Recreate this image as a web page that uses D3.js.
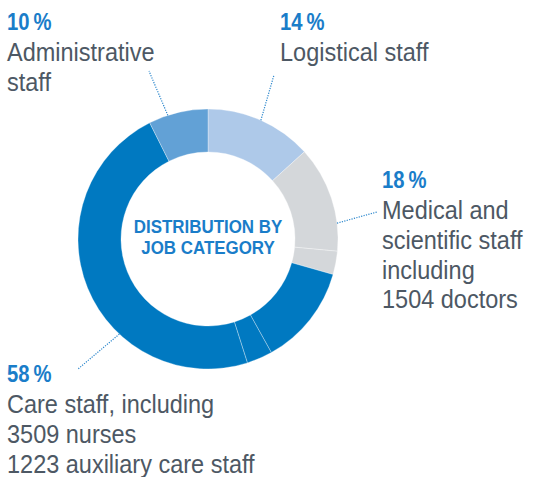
<!DOCTYPE html>
<html>
<head>
<meta charset="utf-8">
<script src="https://cdn.jsdelivr.net/npm/d3@7"></script>
<style>
  body{margin:0;background:#fff;}
  svg{display:block;}
</style>
</head>
<body>
<div id="chart"></div>
<script>
// categories, clockwise from 12 o'clock
const categories = ["Logistical staff","Medical and scientific staff","Care staff","Administrative staff"];
const percents   = [14, 18, 58, 10];
const colors     = ["#aec9e9","#d4d7da","#0079c1","#62a1d6"];
// the ring is split in sub segments
const segCategory = [0, 1, 1, 2, 2, 2, 3];
const segValues   = [13.3, 13.2, 2.9, 12.5, 3.2, 47.5, 7.4];
// label texts
const labelLines = [
  ["Logistical staff"],
  ["Medical and","scientific staff","including","1504 doctors"],
  ["Care staff, including","3509 nurses","1223 auxiliary care staff"],
  ["Administrative","staff"]
];
const title = ["DISTRIBUTION BY","JOB CATEGORY"];

const W = 535, H = 477;
const cx = 208, cy = 239, rOuter = 130, rInner = 87;
const font = "'Liberation Sans', Arial, sans-serif";
const squeeze = "scale(0.94,1)"; // narrow look of the original type

// label layout: anchor of the text block and end of the leader line
const labelPos  = [{x:280,y:30},{x:382,y:188},{x:7,y:382},{x:7,y:30}];
const leaderEnd = [{x:274,y:75},{x:377,y:212},{x:78,y:369},{x:149,y:71}];
const leaderAng = [24, 83, 223, 342];

const svg = d3.select("#chart").append("svg")
  .attr("width",W).attr("height",H);

const g = svg.append("g").attr("transform",`translate(${cx},${cy})`);

const pie = d3.pie().sort(null).value(d => d);
const arc = d3.arc().innerRadius(rInner).outerRadius(rOuter);
const arcs = pie(segValues);

g.selectAll("path.seg")
  .data(arcs)
  .join("path")
  .attr("class","seg")
  .attr("d",arc)
  .attr("fill",(d,i) => colors[segCategory[i]])
  .attr("stroke","#ffffff")
  .attr("stroke-opacity",0.45)
  .attr("stroke-width",0.7);

// center title
g.append("text")
  .attr("transform",squeeze)
  .attr("text-anchor","middle")
  .attr("font-family",font)
  .attr("font-weight","bold")
  .attr("font-size",18)
  .attr("fill","#1a7dc9")
  .selectAll("tspan")
  .data(title)
  .join("tspan")
  .attr("x",0)
  .attr("y",(d,i) => -6 + i*21)
  .text(d => d);

// leader lines
const rad = Math.PI/180;
svg.selectAll("line.leader")
  .data(categories)
  .join("line")
  .attr("class","leader")
  .attr("x1",(d,i) => cx + rOuter*Math.sin(leaderAng[i]*rad))
  .attr("y1",(d,i) => cy - rOuter*Math.cos(leaderAng[i]*rad))
  .attr("x2",(d,i) => leaderEnd[i].x)
  .attr("y2",(d,i) => leaderEnd[i].y)
  .attr("stroke","#2a86cc")
  .attr("stroke-width",1.2)
  .attr("stroke-dasharray","1.2,1.3");

// labels
const lab = svg.selectAll("g.label")
  .data(categories)
  .join("g")
  .attr("class","label")
  .attr("transform",(d,i) => `translate(${labelPos[i].x},${labelPos[i].y})`);

lab.append("text")
  .attr("transform","scale(0.88,1)")
  .attr("font-family",font)
  .attr("font-weight","bold")
  .attr("font-size",23)
  .attr("fill","#1a7dc9")
  .text((d,i) => percents[i] + "\u2009%");

lab.append("text")
  .attr("transform",squeeze)
  .attr("font-family",font)
  .attr("font-size",25)
  .attr("fill","#4d5864")
  .selectAll("tspan")
  .data((d,i) => labelLines[i])
  .join("tspan")
  .attr("x",0)
  .attr("y",(d,i) => 31 + i*29.8)
  .text(d => d);
</script>
</body>
</html>
